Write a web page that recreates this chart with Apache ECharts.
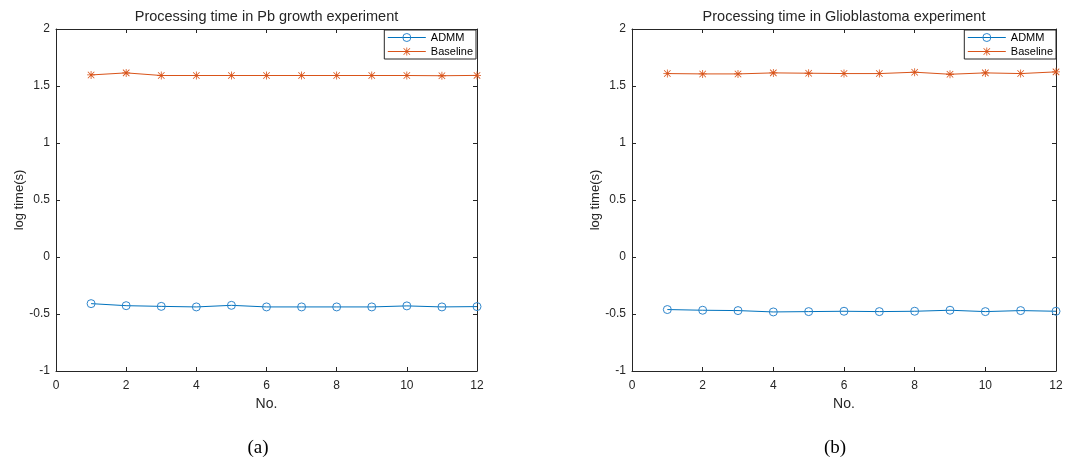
<!DOCTYPE html>
<html>
<head>
<meta charset="utf-8">
<script src="https://cdn.jsdelivr.net/npm/echarts@6/dist/echarts.min.js"></script>
<style>
html,body{margin:0;padding:0;background:#fff;}
#main{width:1075px;height:462px;}
</style>
</head>
<body>
<div id="main"></div>
<script>
var runNo = [1, 2, 3, 4, 5, 6, 7, 8, 9, 10, 11, 12];
var pbAdmm = [-0.409, -0.427, -0.433, -0.438, -0.424, -0.438, -0.438, -0.438, -0.438, -0.429, -0.438, -0.435];
var pbBaseline = [1.597, 1.615, 1.592, 1.592, 1.592, 1.592, 1.592, 1.592, 1.592, 1.592, 1.590, 1.593];
var gbAdmm = [-0.461, -0.467, -0.470, -0.482, -0.479, -0.476, -0.479, -0.476, -0.467, -0.479, -0.470, -0.476];
var gbBaseline = [1.609, 1.606, 1.606, 1.615, 1.612, 1.609, 1.609, 1.621, 1.603, 1.615, 1.609, 1.624];
var titles = ['Processing time in Pb growth experiment', 'Processing time in Glioblastoma experiment'];
var panelLabels = ['(a)', '(b)'];
var xTicks = [0, 2, 4, 6, 8, 10, 12];
var yTicks = [-1, -0.5, 0, 0.5, 1, 1.5, 2];

var C_ADMM = '#0072BD', C_BASE = '#D95319', INK = '#262626';
var FONT = 'Liberation Sans, Arial, Helvetica, sans-serif';
var ASTER = 'path://M4.5,0L5.5,0L5.5,10L4.5,10Z M0,4.5L10,4.5L10,5.5L0,5.5Z M0.6,1.3L1.3,0.6L9.4,8.7L8.7,9.4Z M8.7,0.6L9.4,1.3L1.3,9.4L0.6,8.7Z';

function pairs(ys){ return runNo.map(function(x,i){ return [x, ys[i]]; }); }

var grids = [
  {left: 56, right: 598, top: 29, bottom: 91},
  {left: 632, right: 19, top: 29, bottom: 91}
];
var xAxes = [], yAxes = [], series = [], legends = [], graphics = [];
var centers = [266.5, 844];
var labelX = [258, 835];
[[pbAdmm, pbBaseline], [gbAdmm, gbBaseline]].forEach(function(d, g){
  xAxes.push({
    gridIndex: g, type: 'value', min: xTicks[0], max: xTicks[xTicks.length-1], interval: 2,
    position: 'bottom', name: 'No.', nameLocation: 'middle', nameGap: 26,
    nameTextStyle: {fontFamily: FONT, fontSize: 14, color: INK},
    axisLine: {show: true, onZero: false, lineStyle: {color: INK, width: 1}},
    axisTick: {show: true, inside: true, length: 4, lineStyle: {color: INK}},
    axisLabel: {fontFamily: FONT, fontSize: 12, color: INK, margin: 9},
    splitLine: {show: false}
  });
  xAxes.push({
    gridIndex: g, type: 'value', min: 0, max: 12, interval: 2, position: 'top',
    axisLine: {show: true, onZero: false, lineStyle: {color: INK, width: 1}},
    axisTick: {show: true, inside: true, length: 4, lineStyle: {color: INK}},
    axisLabel: {show: false}, splitLine: {show: false}
  });
  yAxes.push({
    gridIndex: g, type: 'value', min: yTicks[0], max: yTicks[yTicks.length-1], interval: 0.5,
    position: 'left', name: 'log time(s)', nameLocation: 'middle', nameGap: 30,
    nameTextStyle: {fontFamily: FONT, fontSize: 13, color: INK},
    axisLine: {show: true, onZero: false, lineStyle: {color: INK, width: 1}},
    axisTick: {show: true, inside: true, length: 4, lineStyle: {color: INK}},
    axisLabel: {fontFamily: FONT, fontSize: 12, color: INK, margin: 6},
    splitLine: {show: false}
  });
  yAxes.push({
    gridIndex: g, type: 'value', min: -1, max: 2, interval: 0.5, position: 'right',
    axisLine: {show: true, onZero: false, lineStyle: {color: INK, width: 1}},
    axisTick: {show: true, inside: true, length: 4, lineStyle: {color: INK}},
    axisLabel: {show: false}, splitLine: {show: false}
  });
  series.push({
    name: 'ADMM', type: 'line', xAxisIndex: g*2, yAxisIndex: g*2, data: pairs(d[0]),
    symbol: 'circle', symbolSize: 8, color: C_ADMM, lineStyle: {color: C_ADMM, width: 1},
    itemStyle: {color: 'rgba(255,255,255,0)', borderColor: '#2f86cc', borderWidth: 1},
    emphasis: {disabled: true}, animation: false
  });
  series.push({
    name: 'Baseline', type: 'line', xAxisIndex: g*2, yAxisIndex: g*2, data: pairs(d[1]),
    symbol: ASTER, symbolSize: 8, color: C_BASE, lineStyle: {color: C_BASE, width: 1},
    itemStyle: {color: C_BASE}, emphasis: {disabled: true}, animation: false
  });
  graphics.push({
    type: 'text', x: centers[g], y: 17, silent: true,
    style: {text: titles[g], fill: INK, font: '14.5px ' + FONT, textAlign: 'center', textVerticalAlign: 'middle'}
  });
  graphics.push({
    type: 'text', x: labelX[g], y: 448, silent: true,
    style: {text: panelLabels[g], fill: '#000', font: '19px Liberation Serif, Times New Roman, serif', textAlign: 'center', textVerticalAlign: 'middle'}
  });
  legends.push({
    data: [
      {name: 'ADMM', lineStyle: {color: C_ADMM, width: 1}, itemStyle: {color: 'rgba(255,255,255,0)', borderColor: '#2f86cc', borderWidth: 1}},
      {name: 'Baseline', lineStyle: {color: C_BASE, width: 1}, itemStyle: {color: C_BASE}}
    ],
    orient: 'vertical',
    right: g === 0 ? 599 : 19, top: 30,
    itemWidth: 38, itemHeight: 10, itemGap: 3, padding: [2, 3, 2, 3],
    borderColor: INK, borderWidth: 1, backgroundColor: '#fff',
    textStyle: {fontFamily: FONT, fontSize: 11, color: '#000'},
    selectedMode: false
  });
});

var chart = echarts.init(document.getElementById('main'), null, {renderer: 'canvas'});
chart.setOption({
  backgroundColor: '#fff',
  animation: false,
  legend: legends,
  grid: grids,
  xAxis: xAxes,
  yAxis: yAxes,
  series: series,
  graphic: graphics
});
</script>
</body>
</html>
